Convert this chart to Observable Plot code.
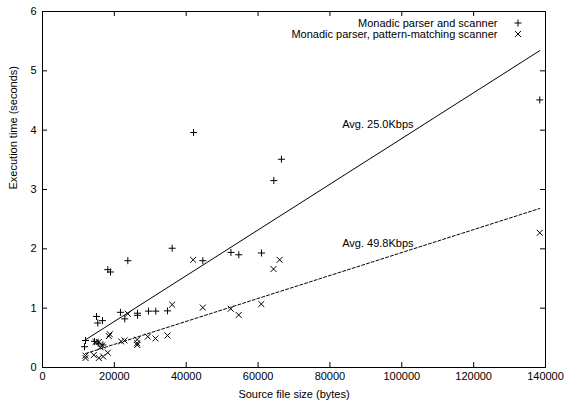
<!DOCTYPE html>
<html>
<head>
<meta charset="utf-8">
<script src="https://cdn.jsdelivr.net/npm/d3@7"></script>
<script src="https://cdn.jsdelivr.net/npm/@observablehq/plot@0.6"></script>
<style>
  html, body { margin: 0; padding: 0; background: #fff; }
  svg { display: block; }
</style>
</head>
<body>
<div id="chart"></div>
<script>
// Series 1: Monadic parser and scanner (+)
const plusSize = [11970, 11690, 14470, 15500, 16800, 15030, 15390, 16700, 18180, 18930,
  21700, 22900, 23750, 26440, 26440, 29500, 31530, 34800, 36090, 42050,
  44620, 52450, 54640, 60950, 64380, 66500, 138400];
const plusTime = [0.455, 0.35, 0.44, 0.41, 0.38, 0.86, 0.75, 0.79, 1.65, 1.61,
  0.93, 0.82, 1.80, 0.915, 0.88, 0.95, 0.95, 0.955, 2.01, 3.96,
  1.80, 1.94, 1.90, 1.93, 3.15, 3.51, 4.51];
// Series 2: Monadic parser, pattern-matching scanner (x)
const timesSize = [11970, 11970, 14280, 15670, 16880, 18180, 14750, 15670, 16600, 16140,
  18460, 18740, 21900, 22820, 26350, 26350, 26350, 29300, 31450, 34790,
  23750, 36090, 41930, 44620, 52400, 54600, 60900, 64300, 66000, 138400];
const timesTime = [0.20, 0.16, 0.21, 0.16, 0.185, 0.25, 0.43, 0.43, 0.37, 0.34,
  0.53, 0.56, 0.44, 0.455, 0.47, 0.41, 0.38, 0.52, 0.49, 0.54,
  0.905, 1.06, 1.815, 1.01, 0.99, 0.885, 1.07, 1.66, 1.815, 2.27];
// Fitted average lines (endpoints)
const fitSize = [11970, 138400];
const fitFast = [0.467, 5.34];  // Avg. 25.0Kbps
const fitPat = [0.235, 2.68];   // Avg. 49.8Kbps
const fitLabels = ["Avg. 25.0Kbps", "Avg. 49.8Kbps"];
const fitLabelX = [83400, 83400];
const fitLabelY = [4.10, 2.09];
// Ticks
const xTicks = [0, 20000, 40000, 60000, 80000, 100000, 120000, 140000];
const yTicks = [0, 1, 2, 3, 4, 5, 6];
const legendLabels = ["Monadic parser and scanner", "Monadic parser, pattern-matching scanner"];

const plusData = plusSize.map((x, i) => ({x, y: plusTime[i]}));
const timesData = timesSize.map((x, i) => ({x, y: timesTime[i]}));
const fastLine = fitSize.map((x, i) => ({x, y: fitFast[i]}));
const patLine = fitSize.map((x, i) => ({x, y: fitPat[i]}));
const labelData = fitLabels.map((t, i) => ({t, x: fitLabelX[i], y: fitLabelY[i]}));

const W = 581, H = 402;
const mL = 42, mR = 36, mT = 11, mB = 35;
const fw = W - mL - mR, fh = H - mT - mB;
const font = "'Liberation Sans', Arial, Helvetica, sans-serif";

const chart = Plot.plot({
  width: W, height: H,
  marginLeft: mL, marginRight: mR, marginTop: mT, marginBottom: mB,
  style: {fontFamily: font, fontSize: "11px", color: "#000", background: "#fff"},
  x: {domain: [0, 140000]},
  y: {domain: [0, 6]},
  marks: [
    Plot.axisX({ticks: xTicks, tickSize: 0, tickPadding: 5, tickFormat: d => String(d), fontSize: 11, label: null}),
    Plot.axisY({ticks: yTicks, tickSize: 0, tickPadding: 6, tickFormat: d => String(d), fontSize: 11, label: null}),
    // inward tick marks on all four sides
    Plot.tickX(xTicks, {x: d => d, insetTop: fh - 5, stroke: "#000"}),
    Plot.tickX(xTicks, {x: d => d, insetBottom: fh - 5, stroke: "#000"}),
    Plot.tickY(yTicks, {y: d => d, insetRight: fw - 5, stroke: "#000"}),
    Plot.tickY(yTicks, {y: d => d, insetLeft: fw - 5, stroke: "#000"}),
    Plot.frame({stroke: "#000"}),
    Plot.line(fastLine, {x: "x", y: "y", stroke: "#000", strokeWidth: 1}),
    Plot.line(patLine, {x: "x", y: "y", stroke: "#000", strokeWidth: 1, strokeDasharray: "3,2"}),
    Plot.dot(plusData, {x: "x", y: "y", symbol: "plus", r: 2.4, stroke: "#000", strokeWidth: 1}),
    Plot.dot(timesData, {x: "x", y: "y", symbol: "times", r: 2.8, stroke: "#000", strokeWidth: 1}),
    Plot.text(labelData, {x: "x", y: "y", text: "t", textAnchor: "start", fontSize: 11, fill: "#000"}),
    // legend
    Plot.text([legendLabels[0]], {frameAnchor: "top-right", dx: -48, dy: 11.5, textAnchor: "end", lineAnchor: "middle", fontSize: 11, fill: "#000"}),
    Plot.text([legendLabels[1]], {frameAnchor: "top-right", dx: -48, dy: 22.5, textAnchor: "end", lineAnchor: "middle", fontSize: 11, fill: "#000"}),
    Plot.dot([0], {frameAnchor: "top-right", dx: -27.5, dy: 11.5, symbol: "plus", r: 2.4, stroke: "#000", strokeWidth: 1}),
    Plot.dot([0], {frameAnchor: "top-right", dx: -27.5, dy: 22.5, symbol: "times", r: 2.8, stroke: "#000", strokeWidth: 1}),
    // axis titles
    Plot.text(["Source file size (bytes)"], {frameAnchor: "bottom", dy: 27, lineAnchor: "middle", fontSize: 11, fill: "#000"}),
    Plot.text(["Execution time (seconds)"], {frameAnchor: "left", dx: -29, rotate: -90, fontSize: 11, fill: "#000"})
  ]
});
document.getElementById("chart").appendChild(chart);
</script>
</body>
</html>
